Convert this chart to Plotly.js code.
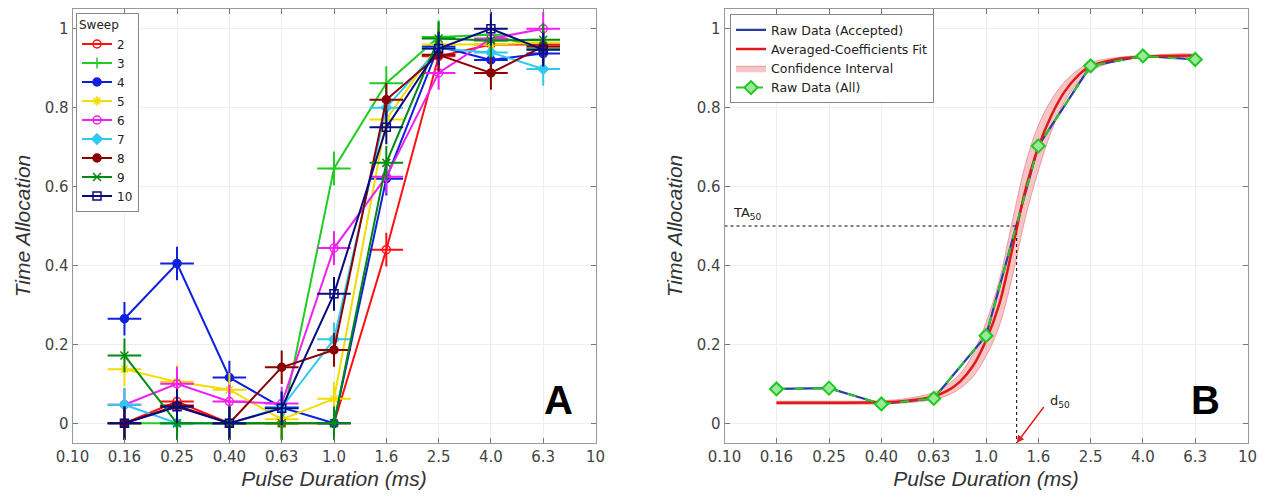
<!DOCTYPE html>
<html>
<head>
<meta charset="utf-8">
<script src="https://cdn.plot.ly/plotly-3.0.1.min.js"></script>
<style>html,body{margin:0;padding:0;background:#fff;}#chart{width:1266px;height:503px;}</style>
</head>
<body>
<div id="chart"></div>
<script>
// ---------- data ----------
const tickVals = [0.1, 0.158, 0.251, 0.398, 0.631, 1.0, 1.585, 2.512, 3.981, 6.31, 10];
const tickText = ['0.10','0.16','0.25','0.40','0.63','1.0','1.6','2.5','4.0','6.3','10'];
const durations = [0.158, 0.251, 0.398, 0.631, 1.0, 1.585, 2.512, 3.981, 6.31];

const sweepNames = ['2','3','4','5','6','7','8','9','10'];
const sweep2  = [0,     0.055, 0,     0,     0,     0.44,  0.93,  0.96,  0.96];
const sweep3  = [0,     0,     0,     0,     0.646, 0.862, 0.979, 0.985, 0.95];
const sweep4  = [0.265, 0.405, 0.116, 0.04,  0,     0.62,  0.955, 0.921, 0.937];
const sweep5  = [0.137, 0.105, 0.085, 0.01,  0.062, 0.77,  0.96,  0.96,  0.965];
const sweep6  = [0.047, 0.10,  0.055, 0.05,  0.444, 0.625, 0.888, 0.975, 1.0];
const sweep7  = [0.047, 0,     0,     0.04,  0.213, 0.80,  0.95,  0.94,  0.898];
const sweep8  = [0,     0.045, 0,     0.142, 0.186, 0.82,  0.934, 0.888, 0.955];
const sweep9  = [0.172, 0,     0,     0,     0,     0.66,  0.975, 0.97,  0.972];
const sweep10 = [0,     0.042, 0,     0.038, 0.328, 0.75,  0.95,  1.0,   0.947];

const rawAll      = [0.087, 0.089, 0.049, 0.063, 0.222, 0.703, 0.906, 0.931, 0.922];
const rawAccepted = [0.087, 0.089, 0.049, 0.063, 0.222, 0.703, 0.906, 0.931, 0.922];

const fitX    = [0.158, 0.251, 0.398, 0.50, 0.631, 0.71, 0.794, 0.891, 1.0, 1.122, 1.259, 1.413, 1.585, 1.778, 1.995, 2.239, 2.512, 3.162, 3.981, 6.31];
const fitY    = [0.052, 0.052, 0.053, 0.057, 0.068, 0.082, 0.105, 0.145, 0.21, 0.30, 0.44, 0.59, 0.70, 0.78, 0.84, 0.88, 0.905, 0.923, 0.929, 0.932];
const ciHigh  = [0.056, 0.056, 0.057, 0.063, 0.078, 0.097, 0.125, 0.175, 0.255, 0.36, 0.51, 0.655, 0.755, 0.82, 0.865, 0.895, 0.914, 0.927, 0.932, 0.934];
const ciLow   = [0.048, 0.048, 0.049, 0.052, 0.060, 0.070, 0.088, 0.118, 0.170, 0.245, 0.37, 0.52, 0.64, 0.74, 0.815, 0.862, 0.893, 0.918, 0.926, 0.93];

const d50 = 1.31;
const ta50 = 0.5;

// ---------- styles ----------
const sweepData = [sweep2, sweep3, sweep4, sweep5, sweep6, sweep7, sweep8, sweep9, sweep10];
const sweepColors = ['#FF1010', '#22CC22', '#1020E0', '#F2DC00', '#F020F0', '#30C8EE', '#8B0000', '#008A10', '#0A0A80'];
const sweepSymbols = ['circle-open', 'cross-thin-open', 'circle', 'asterisk-open', 'circle-open', 'diamond', 'circle', 'x-thin-open', 'square-open'];

const traces = [];
sweepData.forEach((vals, i) => {
  traces.push({
    x: durations, y: vals, xaxis: 'x', yaxis: 'y', type: 'scatter', mode: 'lines+markers',
    name: sweepNames[i], legend: 'legend',
    line: {color: sweepColors[i], width: 2},
    marker: {symbol: sweepSymbols[i], size: 8, color: sweepColors[i], line: {color: sweepColors[i], width: 1.5}}
  });
  traces.push({
    x: durations, y: vals, xaxis: 'x', yaxis: 'y', type: 'scatter', mode: 'markers',
    showlegend: false, hoverinfo: 'skip',
    marker: {symbol: 'cross-thin-open', size: 24, color: sweepColors[i], line: {color: sweepColors[i], width: 2}}
  });
});

// Panel B
traces.push({
  x: fitX.concat(fitX.slice().reverse()),
  y: ciHigh.concat(ciLow.slice().reverse()),
  xaxis: 'x2', yaxis: 'y2', type: 'scatter', mode: 'lines', fill: 'toself',
  fillcolor: 'rgba(240,150,150,0.55)', line: {color: 'rgba(225,110,110,0.6)', width: 1, shape: 'spline'},
  name: 'Confidence Interval', legend: 'legend2', legendrank: 3
});
traces.push({
  x: [0.1, d50], y: [ta50, ta50], xaxis: 'x2', yaxis: 'y2', type: 'scatter', mode: 'lines',
  line: {color: '#000', width: 1, dash: 'dot'}, showlegend: false, hoverinfo: 'skip'
});
traces.push({
  x: [d50, d50], y: [ta50, -0.05], xaxis: 'x2', yaxis: 'y2', type: 'scatter', mode: 'lines',
  line: {color: '#000', width: 1, dash: 'dot'}, showlegend: false, hoverinfo: 'skip'
});
traces.push({
  x: durations, y: rawAccepted, xaxis: 'x2', yaxis: 'y2', type: 'scatter', mode: 'lines',
  line: {color: '#2a3aa8', width: 2.2}, name: 'Raw Data (Accepted)', legend: 'legend2', legendrank: 1
});
traces.push({
  x: fitX, y: fitY, xaxis: 'x2', yaxis: 'y2', type: 'scatter', mode: 'lines',
  line: {color: '#E01818', width: 2.5, shape: 'spline'}, name: 'Averaged-Coefficients Fit', legend: 'legend2', legendrank: 2
});
traces.push({
  x: durations, y: rawAll, xaxis: 'x2', yaxis: 'y2', type: 'scatter', mode: 'lines+markers',
  line: {color: '#22CC22', width: 2, dash: 'dash'},
  marker: {symbol: 'diamond', size: 10, color: '#9BE89B', line: {color: '#1EC81E', width: 2}},
  name: 'Raw Data (All)', legend: 'legend2', legendrank: 4
});

const tickFont = {family: 'DejaVu Sans, sans-serif', size: 15, color: '#444'};
const titleFont = {family: 'Liberation Sans, Arial, sans-serif', size: 21, color: '#333', style: 'italic'};

function xAxis(domain, anchor) {
  return {
    domain: domain, anchor: anchor, type: 'log', range: [-1, 1],
    tickmode: 'array', tickvals: tickVals, ticktext: tickText,
    ticks: 'inside', ticklen: 5, tickcolor: '#777', mirror: 'ticks',
    showline: true, linecolor: '#999', linewidth: 1,
    showgrid: true, gridcolor: '#eeeeee', gridwidth: 1, zeroline: false,
    tickfont: tickFont,
    title: {text: 'Pulse Duration (ms)', font: titleFont, standoff: 6},
    automargin: false
  };
}
function yAxis(anchor) {
  return {
    domain: [0, 1], anchor: anchor, range: [-0.05, 1.05], dtick: 0.2, tick0: 0,
    ticks: 'inside', ticklen: 5, tickcolor: '#777', mirror: 'ticks',
    showline: true, linecolor: '#999', linewidth: 1,
    showgrid: true, gridcolor: '#eeeeee', gridwidth: 1, zeroline: false,
    tickfont: tickFont,
    title: {text: 'Time Allocation', font: titleFont, standoff: 8},
    automargin: false
  };
}

const W = 1266;
const layout = {
  width: 1266, height: 503,
  margin: {l: 0, r: 0, t: 9, b: 60},
  paper_bgcolor: '#fff', plot_bgcolor: '#fff',
  xaxis: xAxis([72.5 / W, 595.5 / W], 'y'),
  yaxis: yAxis('x'),
  xaxis2: xAxis([724.5 / W, 1247.5 / W], 'y2'),
  yaxis2: yAxis('x2'),
  legend: {
    x: 76 / W, y: 0.991, xanchor: 'left', yanchor: 'top',
    bgcolor: '#fff', bordercolor: '#888', borderwidth: 1,
    font: {family: 'DejaVu Sans, sans-serif', size: 12, color: '#222'},
    title: {text: 'Sweep', font: {family: 'DejaVu Sans, sans-serif', size: 12, color: '#222'}, side: 'top'},
    itemwidth: 30, tracegroupgap: 0
  },
  legend2: {
    x: 730 / W, y: 0.988, xanchor: 'left', yanchor: 'top',
    bgcolor: '#fff', bordercolor: '#888', borderwidth: 1,
    font: {family: 'DejaVu Sans, sans-serif', size: 12.5, color: '#222'},
    itemwidth: 30, tracegroupgap: 0
  },
  annotations: [
    {xref: 'x domain', yref: 'y', x: 0.93, y: 0.06, xanchor: 'center', yanchor: 'middle', text: '<b>A</b>', showarrow: false,
     font: {family: 'Liberation Sans, Arial, sans-serif', size: 40, color: '#000'}},
    {xref: 'x2 domain', yref: 'y2', x: 0.92, y: 0.06, xanchor: 'center', yanchor: 'middle', text: '<b>B</b>', showarrow: false,
     font: {family: 'Liberation Sans, Arial, sans-serif', size: 40, color: '#000'}},
    {xref: 'x2 domain', yref: 'y2', x: 0.012, y: ta50, yanchor: 'bottom', xanchor: 'left', yshift: 2,
     text: 'TA<sub>50</sub>', showarrow: false, font: {family: 'DejaVu Sans, sans-serif', size: 13, color: '#222'}},
    {xref: 'x2', yref: 'y2', x: Math.log10(1.72), y: 0.055, xanchor: 'left', yanchor: 'middle',
     text: 'd<sub>50</sub>', showarrow: false, font: {family: 'DejaVu Sans, sans-serif', size: 13, color: '#222'}},
    {xref: 'x2', yref: 'y2', x: Math.log10(d50), y: -0.05, axref: 'x2', ayref: 'y2',
     ax: Math.log10(1.68), ay: 0.045, text: '', showarrow: true,
     arrowcolor: '#E02020', arrowwidth: 1.5, arrowhead: 2, arrowsize: 1}
  ],
  showlegend: true
};

Plotly.newPlot('chart', traces, layout, {displayModeBar: false, staticPlot: true});
</script>
</body>
</html>
